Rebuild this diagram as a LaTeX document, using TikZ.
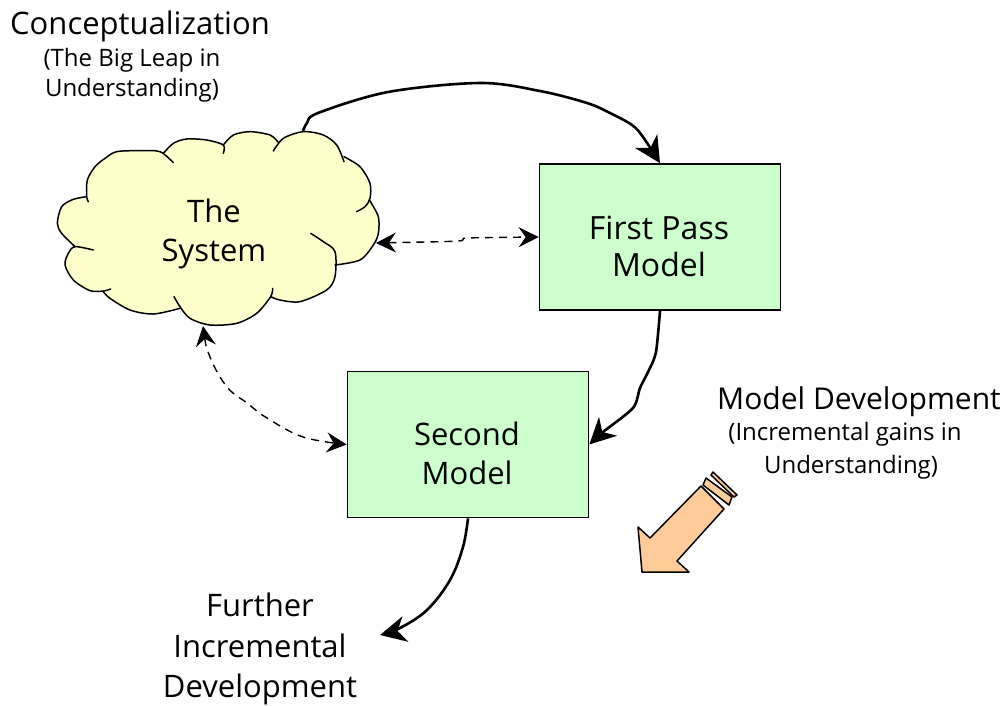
\documentclass[tikz,border=0pt]{standalone}
\usepackage{fontspec}
\setmainfont{Open Sans}
\usetikzlibrary{arrows.meta,calc}
\definecolor{cloudc}{HTML}{FFFFCC}
\definecolor{boxc}{HTML}{CCFFCC}
\definecolor{arrowc}{HTML}{FFCC99}
\tikzset{
  lobe/.style={line width=1.5pt,line join=round,line cap=round},
  modelbox/.style={draw=black,line width=1.7pt,fill=boxc,minimum width=241pt,minimum height=146pt,inner sep=0pt},
  bigtext/.style={inner sep=0pt,align=center,font=\fontsize{31}{39}\selectfont},
  smalltext/.style={inner sep=0pt,align=center,font=\fontsize{24}{30}\selectfont},
  conn/.style={line width=2.6pt,line join=round,-{Stealth[length=26pt,width=26pt,inset=8pt]}},
  dconn/.style={line width=1.4pt,dash pattern=on 8pt off 6pt,{Stealth[length=20pt,width=20pt,inset=7pt]}-{Stealth[length=20pt,width=20pt,inset=7pt]}},
  block/.style={draw=black,line width=1.5pt,fill=arrowc,line join=round}
}
\begin{document}
\begin{tikzpicture}[x=1pt,y=-1pt]
\useasboundingbox (0,0) rectangle (1007,705);
\begin{scope}[shift={(40,110)},x=0.33333pt,y=-0.33333pt]
\fill[cloudc] plot[smooth cycle,tension=.5] coordinates {(140,260)(142,210)(165,170)(195,145)(230,125)(300,122)(360,125)(370,130)(400,100)(440,87)(500,90)(550,105)(580,75)(630,65)(690,75)(715,97)(730,85)(790,65)(850,75)(890,105)(912,140)(960,170)(990,220)(990,265)(1015,320)(1015,370)(1000,405)(960,450)(885,465)(885,500)(860,540)(780,575)(720,570)(692,560)(650,610)(590,640)(510,645)(450,625)(420,595)(340,612)(270,600)(210,565)(190,545)(150,542)(100,510)(75,465)(85,430)(105,410)(65,370)(52,340)(65,290)(100,268)};
\draw[lobe] plot[smooth,tension=.5] coordinates {(145,275)(140,260)(142,210)(165,170)(195,145)(230,125)(300,122)(360,125)(400,158)};
\draw[lobe] plot[smooth,tension=.5] coordinates {(370,130)(400,100)(440,87)(500,90)(550,105)(550,130)};
\draw[lobe] plot[smooth,tension=.5] coordinates {(550,105)(580,75)(630,65)(690,75)(715,97)};
\draw[lobe] plot[smooth,tension=.5] coordinates {(700,123)(730,85)(790,65)(850,75)(890,105)(912,155)};
\draw[lobe] plot[smooth,tension=.5] coordinates {(912,140)(960,170)(990,220)(990,265)(975,290)(950,305)};
\draw[lobe] plot[smooth,tension=.5] coordinates {(988,270)(1015,320)(1015,370)(1000,405)(960,450)(885,465)};
\draw[lobe] plot[smooth,tension=.5] coordinates {(812,370)(850,395)(885,425)(885,500)(860,540)(780,575)(720,570)(692,560)};
\draw[lobe] plot[smooth,tension=.5] coordinates {(698,535)(692,560)(650,610)(590,640)(510,645)(450,625)(420,590)(402,560)};
\draw[lobe] plot[smooth,tension=.5] coordinates {(420,595)(340,612)(270,600)(210,565)(190,545)};
\draw[lobe] plot[smooth,tension=.5] coordinates {(212,537)(190,543)(150,542)(100,510)(75,465)(85,430)(105,410)(160,420)};
\draw[lobe] plot[smooth,tension=.5] coordinates {(105,410)(65,370)(52,340)(65,290)(100,268)(140,260)};
\end{scope}
\node[bigtext] (sys) at (214,234) {The\\System};
\coordinate (cloudtop) at (303,131);
\coordinate (cloudright) at (376,243);
\coordinate (cloudbottom) at (203,326);
\node[modelbox] (first) at (660,237) {};
\node[bigtext,font=\fontsize{32}{37}\selectfont] (firsttext) at (659,246) {First Pass\\Model};
\node[modelbox] (second) at (468,444.5) {};
\node[bigtext] (secondtext) at (467,453) {Second\\Model};
\coordinate (further) at (380,635);
\draw[conn] plot[smooth,tension=.55] coordinates {(cloudtop)(307,123)(318,113)(388,92)(480,83)(540,91)(587,103)(610,113)(632,125)(643,137)(first.north)};
\draw[conn] plot[smooth,tension=.45] coordinates {(first.south)(656,352)(649,370)(640,388)(633,408)(603,432)(second.east)};
\draw[conn] plot[smooth,tension=.6] coordinates {(second.south)(463,547)(450,580)(427,610)(400,628)(further)};
\draw[dconn] plot[smooth,tension=.4] coordinates {(cloudright)(458,241)(467,238)(first.west)};
\draw[dconn] plot[smooth,tension=.6] coordinates {(cloudbottom)(210,357)(227,387)(247,403)(267,418)(303,437)(second.west)};
\draw[block] (701,486)--(724,509)--(677,561)--(689,572)--(642,572)--(638,527)--(650,538)--cycle;
\draw[block] (703,485)--(706,478)--(732,497)--(729,505)--cycle;
\draw[block] (711,475)--(713,472)--(737,495)--(734,497)--cycle;
\node[bigtext] (concept) at (140,26) {Conceptualization};
\node[smalltext] (leap) at (132,75.5) {(The Big Leap in\\Understanding)};
\node[bigtext,font=\fontsize{30}{39}\selectfont] (dev) at (859,402) {Model Development};
\node[smalltext] (gains) at (845,434) {(Incremental gains in};
\node[smalltext] (under) at (851,467) {Understanding)};
\node[bigtext,font=\fontsize{31}{40.5}\selectfont] (inc) at (260,649) {Further\\Incremental\\Development};
\end{tikzpicture}
\end{document}
